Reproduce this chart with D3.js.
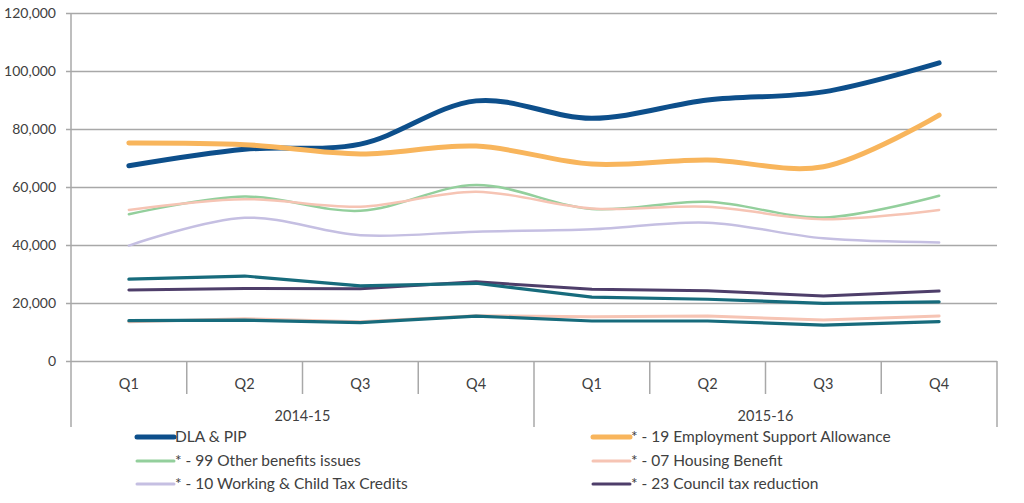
<!DOCTYPE html>
<html><head><meta charset="utf-8">
<script src="https://cdn.jsdelivr.net/npm/d3@7"></script>
<style>
html,body{margin:0;padding:0;background:#fff;}
svg text{font-family:Lato,"Open Sans",sans-serif;fill:#404040;}
</style></head>
<body><svg id="c" width="1024" height="503"></svg>
<script>
const quarters = ["Q1","Q2","Q3","Q4","Q1","Q2","Q3","Q4"];
const years = ["2014-15","2015-16"];
const yTicks = [0,20000,40000,60000,80000,100000,120000];

const dlaPip     = [67300,73000,74800,89700,83700,90000,92800,102800];
const esa        = [75200,74600,71400,74100,67900,69300,67000,84800];
const otherBen   = [50600,56700,51800,60700,52400,54900,49500,57000];
const housing    = [52100,55800,53200,58400,52600,53200,48900,52100];
const wtc        = [39800,49400,43400,44600,45400,47700,42300,40900];
const council    = [24500,25000,24900,27300,24700,24200,22400,24100];
const hiddenA    = [28200,29300,25900,26800,22000,21300,19900,20400];
const hiddenB    = [13500,14600,13500,15600,15300,15500,14100,15500];
const hiddenC    = [13900,14100,13200,15500,13800,13800,12400,13600];

const seriesNames = ["DLA & PIP","* - 19 Employment Support Allowance","* - 99 Other benefits issues","* - 07 Housing Benefit","* - 10 Working & Child Tax Credits","* - 23 Council tax reduction","","",""];
const seriesData = [dlaPip, esa, otherBen, housing, wtc, council, hiddenB, hiddenA, hiddenC];
const seriesColors = ["#0d4f8b","#f8b55c","#93cf9c","#f6c4b4","#c5bfe2","#4e3e6a","#f6c4b4","#176b7c","#176b7c"];
const seriesWidths = [5,5,2.5,2.5,2.5,3,3,3.2,3.2];
const seriesSmooth = [true,true,true,true,true,false,false,false,false];

const svg = d3.select("#c");
const mLeft = 71, mRight = 997, mTop = 13, mBottom = 361;
const keys = quarters.map((q,i)=>i);
const x = d3.scaleBand().domain(keys).range([mLeft,mRight]);
const y = d3.scaleLinear().domain([0,120000]).range([mBottom,mTop]);
const grid = "#a8a8a8";

// gridlines + y labels
const ya = svg.append("g").attr("transform",`translate(${mLeft},0)`)
  .call(d3.axisLeft(y).tickValues(yTicks).tickFormat(d3.format(",")).tickSize(-(mRight-mLeft)).tickPadding(15));
ya.select(".domain").remove();
ya.selectAll(".tick line").attr("stroke",grid).attr("stroke-width",1.5).attr("x1",-5);
ya.selectAll(".tick text").attr("font-size",14).attr("fill","#404040").style("font-family","Lato");

// y axis line
svg.append("line").attr("x1",mLeft).attr("x2",mLeft).attr("y1",mTop).attr("y2",427).attr("stroke",grid).attr("stroke-width",1.5);
// category boundary ticks
const bounds = d3.range(quarters.length+1).map(i=> i<quarters.length ? x(i) : x(quarters.length-1)+x.bandwidth());
bounds.forEach((bx,i)=>{
  const yr = (i%4===0);
  if(i===0) return;
  svg.append("line").attr("x1",bx).attr("x2",bx).attr("y1",mBottom).attr("y2",yr?427:394)
    .attr("stroke",grid).attr("stroke-width",1.5);
});
// quarter labels
svg.append("g").selectAll("text").data(keys).join("text")
  .attr("x",d=>x(d)+x.bandwidth()/2).attr("y",389).attr("text-anchor","middle")
  .attr("font-size",14.5).text(d=>quarters[d]);
// year labels
svg.append("g").selectAll("text").data(years).join("text")
  .attr("x",(d,i)=> (x(i*4) + x(i*4+3)+x.bandwidth())/2).attr("y",421).attr("text-anchor","middle")
  .attr("font-size",14.5).text(d=>d);

// lines
const drawOrder = [0,1,2,3,4,6,5,7,8];
drawOrder.forEach(si=>{
  const gen = d3.line().x((d,i)=>x(i)+x.bandwidth()/2).y(d=>y(d))
    .curve(seriesSmooth[si] ? d3.curveCatmullRom.alpha(0.5) : d3.curveLinear);
  svg.append("path").datum(seriesData[si]).attr("d",gen).attr("fill","none")
    .attr("stroke",seriesColors[si]).attr("stroke-width",seriesWidths[si])
    .attr("stroke-linecap","round").attr("stroke-linejoin","round");
});

// legend
const legPos = [[137,437],[593,437],[137,461],[593,461],[137,484],[593,484]];
for(let i=0;i<6;i++){
  const [lx,ly]=legPos[i];
  svg.append("line").attr("x1",lx).attr("x2",lx+37).attr("y1",ly).attr("y2",ly)
    .attr("stroke",seriesColors[i]).attr("stroke-width",i<2?5:3).attr("stroke-linecap","round");
  svg.append("text").attr("x",lx+38).attr("y",ly+5).attr("font-size",15.5).text(seriesNames[i]);
}
</script></body></html>
